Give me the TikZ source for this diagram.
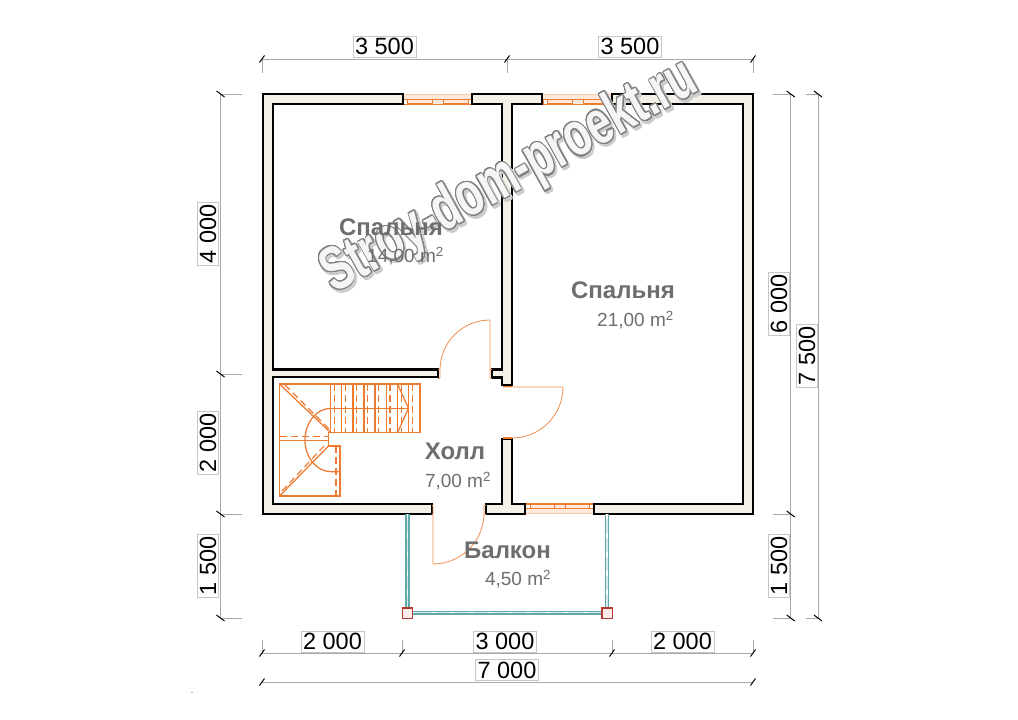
\documentclass[tikz,border=0pt]{standalone}
\usepackage{fontspec}
\setmainfont{Liberation Sans}
\usepackage[copies]{contour}
\contournumber{32}
\definecolor{wallfill}{HTML}{F3F1E8}
\definecolor{orng}{HTML}{EE7A30}
\definecolor{orngl}{HTML}{F6C9A8}
\definecolor{dimg}{HTML}{A8A8A8}
\definecolor{labg}{HTML}{6E6E6E}
\definecolor{teal1}{HTML}{5FA9AB}
\definecolor{postr}{HTML}{B23A30}
\newcommand{\fsz}[1]{\fontsize{#1}{#1}\selectfont}
\tikzset{
 wall/.style={draw=black,fill=wallfill,line width=2.9pt,line join=miter},
 dimline/.style={draw=dimg,line width=1pt},
 dimtick/.style={draw=black,line width=1pt},
 dimlab/.style={draw=black!22,fill=white,line width=.8pt,inner sep=0pt,minimum width=63pt,minimum height=21pt,text=black,font=\fsz{23.5}},
 roomname/.style={text=labg,font=\fsz{24}\bfseries,inner sep=0pt},
 roomarea/.style={text=labg,font=\fsz{19},inner sep=0pt},
 orl/.style={draw=orng,line width=1.25pt},
 orth/.style={draw=orng,line width=.8pt},
 ordash/.style={draw=orng,line width=1.1pt,dash pattern=on 7pt off 4pt},
 doorl/.style={draw=orng!85,line width=.8pt},
 post/.style={draw=postr,fill=white!92!red,line width=1.2pt},
 glz/.style={draw=teal1,line width=4.2pt},
 glzc/.style={draw=white!75!teal1,line width=1.2pt},
 glzd/.style={draw=white,line width=1.3pt,dash pattern=on 5pt off 14pt},
}
\newcommand{\tickx}[2]{\draw[dimtick] (#1-2.5,#2+3.5) -- (#1+2.5,#2-3.5);}
\newcommand{\ticky}[2]{\draw[dimtick] (#1-4,#2-3) -- (#1+4,#2+3);}
\begin{document}
\begin{tikzpicture}[x=1pt,y=-1pt]
\useasboundingbox (0,0) rectangle (1018,720);
\fill[white] (0,0) rectangle (1018,720);

% windows top
\foreach \xa/\xb in {403/472,543/612}{
 \fill[orngl!40] (\xa,94) rectangle (\xb,104);
 \draw[draw=orngl,line width=1.8pt] (\xa,94.5) -- (\xb,94.5);
 \draw[orl] (\xa,99.5) -- (\xb,99.5);
 \draw[orl] (\xa,104) -- (\xb,104);
 \draw[orth,fill=white] (\xa,99.5) rectangle (\xa+4,104);
 \draw[orth,fill=white] (\xb-4,99.5) rectangle (\xb,104);
 \draw[orth,fill=orngl!40] ({(\xa+\xb)/2-5.5},99.5) rectangle ({(\xa+\xb)/2+5.5},104);
}
% window bottom
\fill[orngl!40] (525,504) rectangle (594,514);
\draw[orl] (525,504) -- (594,504);
\draw[orl] (525,508.5) -- (594,508.5);
\draw[draw=orngl,line width=1.8pt] (525,513.5) -- (594,513.5);
\draw[orth,fill=white] (525,504) rectangle (530,508.5);
\draw[orth,fill=white] (589,504) rectangle (594,508.5);
\draw[orth,fill=orngl!40] (554,504) rectangle (565,508.5);

% walls
\draw[wall] (403,94) -- (263,94) -- (263,514) -- (432,514) -- (432,504) -- (273,504) -- (273,377) -- (438,377) -- (438,369.5) -- (273,369.5) -- (273,104) -- (403,104) -- cycle;
\draw[wall] (472,94) -- (542,94) -- (542,104) -- (512,104) -- (512,385) -- (502,385) -- (502,377.5) -- (492,377.5) -- (492,369.5) -- (502,369.5) -- (502,104) -- (472,104) -- cycle;
\draw[wall] (502,439) -- (512,439) -- (512,504) -- (525,504) -- (525,514) -- (486,514) -- (486,504) -- (502,504) -- cycle;
\draw[wall] (612,94) -- (753,94) -- (753,514) -- (594,514) -- (594,504) -- (743,504) -- (743,104) -- (612,104) -- cycle;

% doors
\draw[doorl] (490,378) -- (490,320) arc[start angle=270,end angle=180,radius=50] -- (440,378);
\draw[doorl] (490,369.5) -- (492,369.5) (490,378) -- (492,378);
\draw[doorl] (438,369.5) -- (440,369.5) (438,378) -- (440,378);
\draw[doorl] (503,387) -- (563,387) arc[start angle=0,end angle=90,radius=51] -- (503,438);
\draw[orl] (503,386.5) -- (512,386.5);
\draw[orl] (503,438) -- (512,438);
\draw[doorl] (433,505) -- (433,564) arc[start angle=90,end angle=0,radius=51] -- (484,505);
\draw[doorl] (432,505) -- (433,505) (432,514) -- (433,514) (484,505) -- (486,505) (484,514) -- (486,514);

% stairs
\draw[orl] (279.5,384) -- (420,384) -- (420,432.7) -- (328.5,432.7) -- (328.5,446) -- (340,446) -- (340,496) -- (279.5,496) -- cycle;
\foreach \i in {0,...,7}{
 \draw[orl] ({330.7+11.1*\i},384) -- ({330.7+11.1*\i},432.7);
 \draw[ordash] ({334.5+11.1*\i},384) -- ({334.5+11.1*\i},432.7);
}
\draw[orl] (330.7,408.3) -- (408.5,408.3);
\draw[orl] (397.5,384) -- (408.5,408.3) -- (397.5,432.7);
\draw[orl] (279.5,384) -- (331,433);
\draw[orl] (279.5,496) -- (328.5,446);
\draw[ordash] (285,385) -- (329,429);
\draw[ordash] (282,491) -- (324,446);
\draw[ordash] (279.5,436.3) -- (329,436.3);
\draw[orl] (279.5,440.3) -- (328.5,440.3);
\draw[ordash] (336,446) -- (336,496);
\draw[orl] (331,408.3) arc[start angle=270,end angle=90,x radius=26,y radius=31.7] -- (340,471.7);

% glazing
\foreach \xa/\ya/\xb/\yb in {407.5/514/407.5/608,607/514/607/608,412/612.8/602/612.8}{
 \draw[glz] (\xa,\ya) -- (\xb,\yb);
 \draw[glzc] (\xa,\ya) -- (\xb,\yb);
 \draw[glzd] (\xa,\ya) -- (\xb,\yb);
}
\draw[post] (402.5,608) rectangle (412.7,618.5);
\draw[post] (602,608) rectangle (612.5,618.5);

% dimensions: top
\draw[dimline] (262,59) -- (753,59);
\draw[dimline] (262,59) -- (262,72.5) (507,59) -- (507,72.5) (753,59) -- (753,72.5);
\tickx{262}{59}\tickx{507}{59}\tickx{753}{59}
\node[dimlab] (t1) at (384.5,46.5) {3 500};
\node[dimlab] (t2) at (630,46.5) {3 500};
% left
\draw[dimline] (220.5,94) -- (220.5,618);
\foreach \y in {94,374,514,618}{\draw[dimline] (220.5,\y) -- (242,\y); \ticky{220.5}{\y}}
\node[dimlab,rotate=90] (l1) at (208,234) {4 000};
\node[dimlab,rotate=90] (l2) at (208,443) {2 000};
\node[dimlab,rotate=90] (l3) at (208,566) {1 500};
% right
\draw[dimline] (790.7,94) -- (790.7,618);
\draw[dimline] (818,94) -- (818,618);
\foreach \y in {94,514,618}{\draw[dimline] (773,\y) -- (790.7,\y); \ticky{790.7}{\y}}
\foreach \y in {94,618}{\draw[dimline] (806,\y) -- (818,\y); \ticky{818}{\y}}
\node[dimlab,rotate=90] (r1) at (779,304) {6 000};
\node[dimlab,rotate=90] (r2) at (779,566) {1 500};
\node[dimlab,rotate=90] (r3) at (807,356) {7 500};
% bottom
\draw[dimline] (262,653) -- (753,653);
\draw[dimline] (262,682) -- (753,682);
\foreach \x in {262,402,612,753}{\draw[dimline] (\x,640) -- (\x,653); \tickx{\x}{653}}
\tickx{262}{682}\tickx{753}{682}
\node[dimlab] (b1) at (332.5,641.5) {2 000};
\node[dimlab] (b2) at (505,641.5) {3 000};
\node[dimlab] (b3) at (682.5,641.5) {2 000};
\node[dimlab] (b4) at (507,670) {7 000};
\fill[black!35] (191,691.5) rectangle (193,692.5);

% watermark
\node[rotate=29,inner sep=0pt,font=\fsz{62}\bfseries,xscale=.70,text=black!20] (wms) at (512,180.5) {\contourlength{1.8pt}\contour{black!20}{Stroy-dom-proekt.ru}};
\node[rotate=29,inner sep=0pt,font=\fsz{62}\bfseries,xscale=.70,text=black!4] (wm) at (510,178) {\contourlength{1.2pt}\contour{black!50}{Stroy-dom-proekt.ru}};

% room labels
\node[roomname] (n1) at (391,227) {Спальня};
\node[roomarea] (a1) at (405.5,256) {14,00 m\textsuperscript{2}};
\node[roomname] (n2) at (623,290) {Спальня};
\node[roomarea] (a2) at (635.5,320) {21,00 m\textsuperscript{2}};
\node[roomname] (n3) at (455,451) {Холл};
\node[roomarea] (a3) at (458,481) {7,00 m\textsuperscript{2}};
\node[roomname] (n4) at (507.5,550) {Балкон};
\node[roomarea] (a4) at (518,579) {4,50 m\textsuperscript{2}};
\end{tikzpicture}
\end{document}
